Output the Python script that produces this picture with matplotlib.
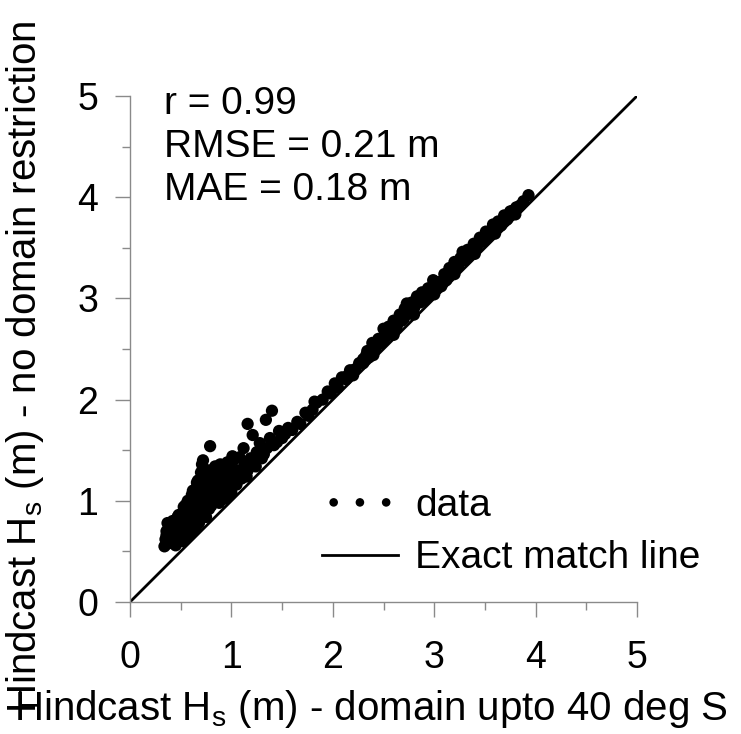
import matplotlib
matplotlib.use("Agg")
import matplotlib.pyplot as plt

plt.rcParams['font.family'] = ['Liberation Sans', 'DejaVu Sans']

# Hindcast Hs (m): domain upto 40 deg S (x) vs no domain restriction (y)
hs_domain40 = [
    0.34, 0.35, 0.36, 0.37, 0.38, 0.40, 0.41, 0.42, 0.44, 0.45, 0.46, 0.47, 0.48, 0.50, 0.51, 0.52,
    0.53, 0.54, 0.55, 0.56, 0.57, 0.58, 0.59, 0.60, 0.61, 0.62, 0.63, 0.64, 0.65, 0.66, 0.67, 0.68,
    0.69, 0.70, 0.70, 0.71, 0.72, 0.72, 0.73, 0.74, 0.75, 0.76, 0.77, 0.78, 0.79, 0.80, 0.81, 0.82,
    0.83, 0.84, 0.85, 0.86, 0.87, 0.88, 0.90, 0.91, 0.92, 0.94, 0.95, 0.97, 0.98, 1.00, 1.02, 1.03,
    1.05, 1.07, 1.08, 1.10, 1.12, 1.13, 1.16, 1.16, 1.19, 1.21, 1.22, 1.25, 1.28, 1.30, 1.34, 1.35,
    1.38, 1.40, 1.42, 1.47, 1.50, 1.56, 1.60, 1.65, 1.73, 1.76, 1.82, 1.84, 1.90, 1.95, 2.02, 2.05,
    2.09, 2.13, 2.17, 2.22, 2.26, 2.30, 2.34, 2.36, 2.39, 2.42, 2.45, 2.48, 2.50, 2.52, 2.55, 2.58,
    2.60, 2.63, 2.66, 2.68, 2.71, 2.73, 2.75, 2.78, 2.80, 2.83, 2.86, 2.88, 2.91, 2.94, 2.96, 2.99,
    3.01, 3.04, 3.07, 3.10, 3.12, 3.15, 3.18, 3.20, 3.23, 3.26, 3.28, 3.30, 3.33, 3.36, 3.39, 3.42,
    3.45, 3.48, 3.51, 3.54, 3.58, 3.60, 3.63, 3.66, 3.69, 3.72, 3.75, 3.78, 3.81, 3.85, 3.88, 3.93,
    0.88, 0.95, 1.00, 0.75, 0.65, 0.55, 0.45, 0.60, 0.68, 0.52, 0.58, 0.63,
    2.20, 2.40, 2.60, 2.80, 3.00, 3.20, 3.40, 3.60, 3.80, 2.30, 2.50, 2.70, 2.90, 3.10, 3.30, 3.50, 3.70,
    0.36, 0.39, 0.43, 0.49, 0.57, 0.62, 0.66, 0.69, 0.74, 0.78, 0.82, 0.86, 0.93, 0.99, 1.04, 1.09,
    1.15, 1.24, 1.32, 1.45, 1.53, 1.68, 1.80, 1.98, 2.15, 2.33, 2.47, 2.64, 2.77, 2.93, 3.06, 3.24,
    3.37, 3.53, 3.67, 3.83,
    0.40, 0.44, 0.48, 0.53, 0.57, 0.61, 0.65, 0.70, 0.74, 0.79, 0.84, 0.89, 0.96, 1.01, 0.67, 0.72,
    0.50, 0.55, 0.60, 0.64, 0.76, 0.81,
]
hs_norestrict = [
    0.55, 0.62, 0.70, 0.78, 0.58, 0.66, 0.74, 0.80, 0.62, 0.70, 0.77, 0.84, 0.66, 0.72, 0.80, 0.88,
    0.68, 0.76, 0.92, 0.84, 0.72, 0.98, 0.80, 0.90, 1.02, 0.76, 0.86, 0.95, 1.06, 0.82, 0.92, 1.00,
    1.12, 1.28, 0.86, 1.36, 1.40, 0.96, 1.05, 1.20, 0.90, 1.30, 1.00, 1.10, 1.54, 0.95, 1.18, 1.04,
    1.25, 1.00, 1.12, 1.30, 1.06, 1.20, 1.10, 1.28, 1.16, 1.08, 1.22, 1.14, 1.32, 1.20, 1.40, 1.25,
    1.16, 1.30, 1.43, 1.22, 1.52, 1.36, 1.76, 1.30, 1.42, 1.65, 1.36, 1.48, 1.57, 1.42, 1.80, 1.52,
    1.62, 1.89, 1.55, 1.69, 1.62, 1.72, 1.70, 1.78, 1.87, 1.84, 1.98, 1.97, 2.00, 2.08, 2.16, 2.12,
    2.22, 2.20, 2.29, 2.30, 2.36, 2.40, 2.48, 2.42, 2.56, 2.50, 2.60, 2.56, 2.70, 2.62, 2.72, 2.66,
    2.78, 2.72, 2.84, 2.78, 2.90, 2.95, 2.85, 2.96, 2.90, 3.02, 2.96, 3.06, 3.00, 3.10, 3.04, 3.18,
    3.08, 3.16, 3.12, 3.24, 3.18, 3.30, 3.26, 3.36, 3.32, 3.40, 3.46, 3.38, 3.48, 3.44, 3.54, 3.50,
    3.60, 3.56, 3.66, 3.62, 3.73, 3.68, 3.76, 3.72, 3.82, 3.78, 3.86, 3.87, 3.90, 3.92, 3.96, 4.02,
    0.98, 1.04, 1.08, 0.84, 0.74, 0.64, 0.56, 0.70, 0.78, 0.60, 0.66, 0.72,
    2.24, 2.44, 2.64, 2.84, 3.04, 3.24, 3.44, 3.64, 3.83, 2.36, 2.58, 2.80, 2.98, 3.18, 3.38, 3.58, 3.77,
    0.66, 0.72, 0.68, 0.82, 0.88, 1.10, 1.18, 0.94, 1.12, 0.92, 0.98, 1.16, 1.02, 1.10, 1.18, 1.24,
    1.24, 1.34, 1.46, 1.58, 1.66, 1.76, 1.90, 2.06, 2.24, 2.44, 2.58, 2.76, 2.88, 3.03, 3.16, 3.33,
    3.48, 3.63, 3.76, 3.90,
    0.74, 0.79, 0.86, 0.94, 1.00, 1.06, 1.12, 1.22, 1.26, 1.30, 1.34, 1.36, 1.38, 1.44, 1.20, 1.32,
    0.82, 0.96, 1.00, 1.04, 1.14, 1.24,
]

match_line = [0, 5]
major_ticks = [0, 1, 2, 3, 4, 5]
minor_ticks = [0.5, 1.5, 2.5, 3.5, 4.5]
stats_lines = ["r = 0.99", "RMSE = 0.21 m", "MAE = 0.18 m"]

fig = plt.figure(figsize=(7.41, 7.34), dpi=100)
ax = fig.add_axes([130/741, 1-602/734, 507/741, 506/734])

ax.scatter(hs_domain40, hs_norestrict, s=78, c='black', edgecolors='none',
           label='data', zorder=3, clip_on=False)
ax.plot(match_line, match_line, color='black', lw=2.0, label='Exact match line', zorder=2)

ax.set_xlim(0, 5)
ax.set_ylim(0, 5)
ax.set_xticks(major_ticks)
ax.set_yticks(major_ticks)
ax.set_xticks(minor_ticks, minor=True)
ax.set_yticks(minor_ticks, minor=True)
for sp in ['top', 'right']:
    ax.spines[sp].set_visible(False)
for sp in ['left', 'bottom']:
    ax.spines[sp].set_color('#8a8a8a')
    ax.spines[sp].set_linewidth(1.0)
ax.tick_params(which='major', direction='out', length=11, width=1.0, color='#8a8a8a',
               labelsize=27)
ax.tick_params(which='minor', direction='out', length=6, width=1.0, color='#8a8a8a')
ax.tick_params(axis='x', which='major', pad=16)
ax.tick_params(axis='y', which='major', pad=12)

ax.set_xlabel('Hindcast H$_\\mathregular{s}$ (m) - domain upto 40 deg S', fontsize=29)
ax.set_ylabel('Hindcast H$_\\mathregular{s}$ (m) - no domain restriction', fontsize=29)
ax.xaxis.set_label_coords((371-130)/507, (602-688)/506)
ax.yaxis.set_label_coords((46-130)/507, (602-367)/506)

for i, t in enumerate(stats_lines):
    ax.text(0.068, 0.985 - i*0.085, t, transform=ax.transAxes, fontsize=28,
            va='center', ha='left')

leg = ax.legend(loc='upper left', bbox_to_anchor=((322-130)/507, (602-488)/506),
                frameon=False, fontsize=28, borderaxespad=0, borderpad=0,
                scatterpoints=3, scatteryoffsets=[0.5], handlelength=1.95,
                handletextpad=0.45, labelspacing=0.42, markerscale=0.7)

fig.savefig('out.png', dpi=100)
